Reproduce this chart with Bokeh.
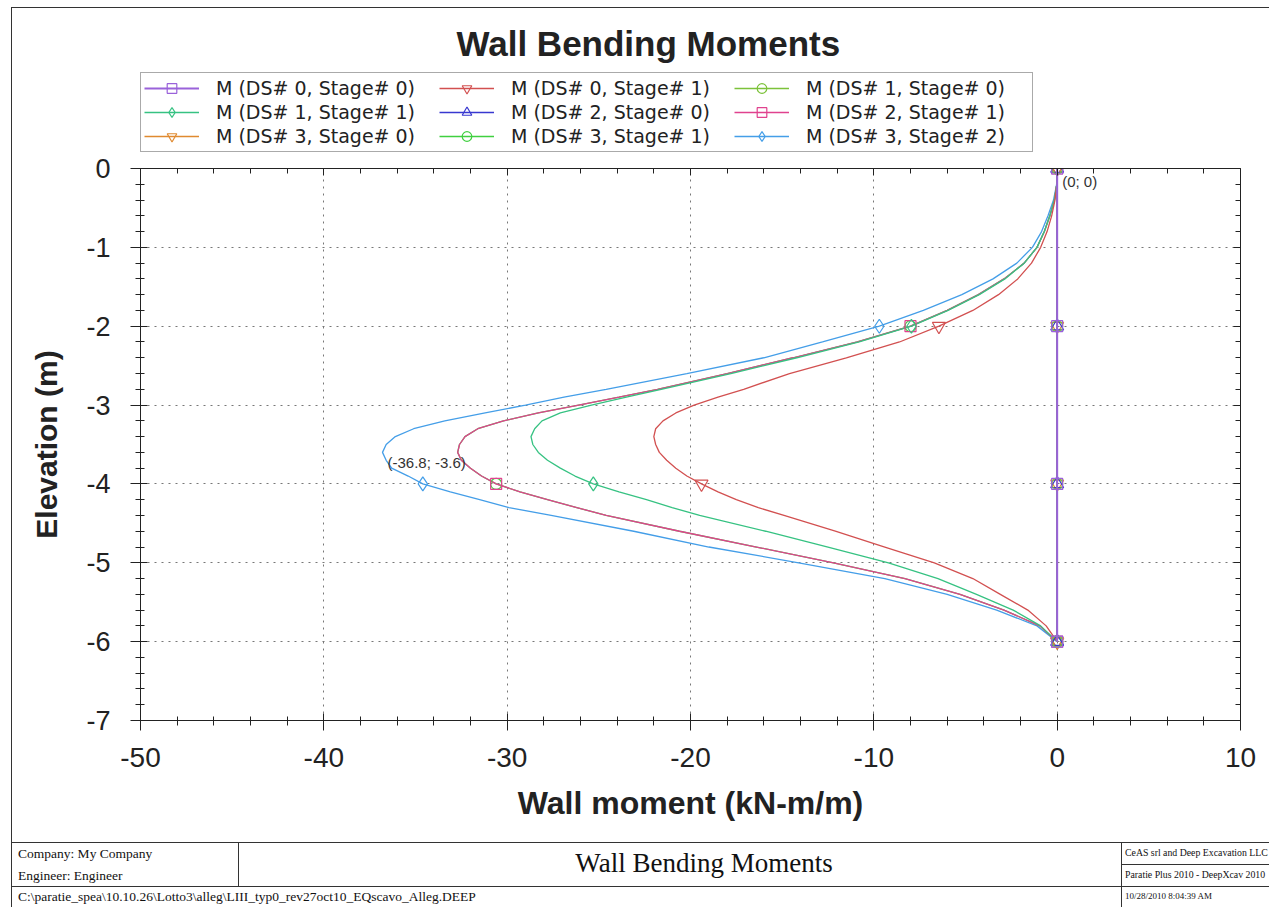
from bokeh.plotting import figure
from bokeh.models import Range1d, FixedTicker, Legend, LegendItem, Label, LinearAxis, Div
from bokeh.layouts import column
from bokeh.embed import file_html
from bokeh.resources import INLINE
from bokeh.core.properties import value

# ---------------- data ----------------
elevation = [0.0, -0.2, -0.4, -0.6, -0.8, -1.0, -1.2, -1.4, -1.6, -1.8, -2.0, -2.2, -2.4, -2.6, -2.8,
             -2.9, -3.0, -3.1, -3.2, -3.3, -3.4, -3.5, -3.6, -3.7, -3.8, -3.9, -4.0, -4.1, -4.2, -4.3, -4.4,
             -4.6, -4.8, -5.0, -5.2, -5.4, -5.6, -5.8, -6.0]

m_ds0_s1 = [0.0, -0.02, -0.12, -0.3, -0.55, -0.9, -1.4, -2.15, -3.2, -4.6, -6.45, -8.6, -11.5, -14.6, -17.1,
            -18.5, -19.8, -20.8, -21.5, -21.9, -22.0, -21.9, -21.7, -21.3, -20.8, -20.2, -19.4, -18.5, -17.5, -16.3, -14.9,
            -12.1, -9.4, -6.7, -4.6, -3.1, -1.6, -0.6, 0.0]
m_ds1_s1 = [0.0, -0.02, -0.15, -0.4, -0.7, -1.1, -1.8, -2.85, -4.25, -5.95, -7.95, -10.8, -14.2, -17.8, -21.6,
            -23.5, -25.4, -27.1, -28.1, -28.5, -28.7, -28.6, -28.3, -27.8, -27.1, -26.3, -25.3, -23.9, -22.4, -21.0, -19.5,
            -15.9, -12.5, -9.2, -6.5, -4.4, -2.4, -0.9, 0.0]
m_ds2_s1 = [0.0, -0.02, -0.15, -0.4, -0.7, -1.1, -1.8, -2.9, -4.3, -6.0, -8.0, -10.9, -14.4, -18.0, -21.8,
            -23.9, -26.1, -28.3, -30.2, -31.6, -32.3, -32.6, -32.7, -32.5, -32.0, -31.4, -30.6, -29.3, -27.8, -26.2, -24.6,
            -20.6, -16.4, -12.2, -8.3, -5.3, -2.9, -0.95, 0.0]
m_ds3_s1 = [0.0, -0.02, -0.15, -0.4, -0.7, -1.1, -1.8, -2.9, -4.3, -6.0, -8.0, -10.9, -14.4, -18.0, -21.8,
            -23.9, -26.1, -28.3, -30.2, -31.6, -32.3, -32.6, -32.7, -32.5, -32.0, -31.4, -30.6, -29.3, -27.8, -26.2, -24.6,
            -20.6, -16.4, -12.2, -8.3, -5.3, -2.9, -0.95, 0.0]
m_ds3_s2 = [0.0, -0.03, -0.2, -0.5, -0.85, -1.35, -2.2, -3.5, -5.2, -7.3, -9.7, -12.8, -16.0, -20.2, -24.6,
            -26.9, -29.0, -31.2, -33.4, -35.1, -36.1, -36.6, -36.8, -36.6, -36.3, -35.4, -34.6, -33.1, -31.5, -29.9, -27.6,
            -23.1, -19.0, -14.1, -9.4, -6.0, -3.3, -1.1, 0.0]

marker_elevations = [0.0, -2.0, -4.0, -6.0]

elevation_stage0 = [0.0, -2.0, -4.0, -6.0]
m_ds0_s0 = [0.0, 0.0, 0.0, 0.0]
m_ds1_s0 = [0.0, 0.0, 0.0, 0.0]
m_ds2_s0 = [0.0, 0.0, 0.0, 0.0]
m_ds3_s0 = [0.0, 0.0, 0.0, 0.0]

series_labels = ["M (DS# 0, Stage# 0)", "M (DS# 0, Stage# 1)", "M (DS# 1, Stage# 0)",
                 "M (DS# 1, Stage# 1)", "M (DS# 2, Stage# 0)", "M (DS# 2, Stage# 1)",
                 "M (DS# 3, Stage# 0)", "M (DS# 3, Stage# 1)", "M (DS# 3, Stage# 2)"]

x_ticks = [-50, -40, -30, -20, -10, 0, 10]
x_tick_labels = ["-50", "-40", "-30", "-20", "-10", "0", "10"]
x_minor = [v for v in range(-50, 11, 2) if v % 10 != 0]
y_ticks = [-7, -6, -5, -4, -3, -2, -1, 0]
y_tick_labels = ["-7", "-6", "-5", "-4", "-3", "-2", "-1", "0"]
y_minor = [round(-7 + 0.2 * i, 1) for i in range(36) if i % 5 != 0]

title_text = "Wall Bending Moments"
x_title = "Wall moment (kN-m/m)"
y_title = "Elevation (m)"
footer_company = "Company: My Company"
footer_engineer = "Engineer: Engineer"
footer_title = "Wall Bending Moments"
footer_file = "C:\\paratie_spea\\10.10.26\\Lotto3\\alleg\\LIII_typ0_rev27oct10_EQscavo_Alleg.DEEP"
footer_r1 = "CeAS srl and Deep Excavation LLC"
footer_r2 = "Paratie Plus 2010 - DeepXcav 2010"
footer_r3 = "10/28/2010 8:04:39 AM"

# ---------------- styling ----------------
FONT = "Liberation Sans"
LEGFONT = "DejaVu Sans"
INK = "#222222"

colors = ["#9A62DA", "#D25050", "#7CC23A", "#36C282", "#3838D0",
          "#E0428E", "#E08A30", "#40D040", "#449EE8"]
markers = ["square", "inverted_triangle", "circle", "diamond", "triangle",
           "square", "inverted_triangle", "circle", "diamond"]
msizes = [11, 13, 11, 14, 13, 11, 13, 11, 14]

W = 1257
BL, BR = 128, 29          # left/right borders around the plotting frame
H_TOP = 145               # header (title + legend)
H_MAIN = 689
H_FOOT = 65

stage1 = {1: m_ds0_s1, 3: m_ds1_s1, 5: m_ds2_s1, 7: m_ds3_s1, 8: m_ds3_s2}
stage0 = {0: m_ds0_s0, 2: m_ds1_s0, 4: m_ds2_s0, 6: m_ds3_s0}
mk_idx = [j for j, e in enumerate(elevation) if e in marker_elevations]


def series_xy(i):
    if i in stage1:
        m = stage1[i]
        return (m, elevation, [m[j] for j in mk_idx], [elevation[j] for j in mk_idx])
    m = stage0[i]
    return (m, elevation_stage0, m, elevation_stage0)


def line_w(i):
    return 2.0 if i == 0 else (1.6 if i in stage0 else 1.3)


# ---------------- header: title + legend ----------------
FW = W - BL - BR
ph = figure(width=W, height=H_TOP, x_range=Range1d(0, FW), y_range=Range1d(H_TOP, 0),
            output_backend="svg", toolbar_location=None, title=None,
            min_border_left=BL, min_border_right=BR, min_border_top=0, min_border_bottom=0,
            x_axis_location=None, y_axis_location=None, outline_line_color=None,
            background_fill_color="white", border_fill_color="white")
ph.xgrid.visible = False
ph.ygrid.visible = False
ph.text(x=[316], y=[35], text=[title_text], text_font=value(FONT), text_font_size="35px",
        text_font_style="bold", text_color=INK, text_baseline="middle", text_align="left")

leg_r = []
for i in range(9):
    lx, ly, mx, my = series_xy(i)
    ln = ph.line(lx, ly, line_color=colors[i], line_width=line_w(i), visible=False)
    mk = ph.scatter(mx, my, marker=markers[i], size=msizes[i], line_color=colors[i],
                    fill_alpha=0, line_width=1.2, visible=False)
    leg_r.append([ln, mk])
items = [LegendItem(label=series_labels[i], renderers=leg_r[i]) for i in range(9)]
legend = Legend(items=items, location=(0, 1), orientation="horizontal", ncols=3,
                glyph_width=55, glyph_height=24, label_standoff=17, label_width=223,
                label_height=19, spacing=0, padding=3, margin=0,
                label_text_font=LEGFONT, label_text_font_size="19px", label_text_color=INK,
                border_line_color="#555555", border_line_width=1,
                background_fill_color="white", background_fill_alpha=1,
                inactive_fill_alpha=0)
ph.add_layout(legend, "center")

# ---------------- main chart ----------------
p = figure(width=W, height=H_MAIN, x_range=Range1d(-50, 10), y_range=Range1d(-7, 0),
           output_backend="svg", toolbar_location=None, title=None,
           min_border_left=BL, min_border_right=BR, min_border_top=15, min_border_bottom=122,
           background_fill_color="white", border_fill_color="white",
           outline_line_color=None)

xt = FixedTicker(ticks=x_ticks, minor_ticks=x_minor)
yt = FixedTicker(ticks=y_ticks, minor_ticks=y_minor)

xa = p.xaxis[0]
ya = p.yaxis[0]
xa.ticker = xt
ya.ticker = yt
xa.major_label_overrides = dict(zip(x_ticks, x_tick_labels))
ya.major_label_overrides = dict(zip(y_ticks, y_tick_labels))
for ax in (xa, ya):
    ax.axis_line_color = INK
    ax.major_tick_line_color = INK
    ax.minor_tick_line_color = INK
    ax.major_tick_in = 7
    ax.major_tick_out = 10
    ax.minor_tick_in = 4
    ax.minor_tick_out = 5
    ax.major_label_text_font = FONT
    ax.major_label_text_color = INK
    ax.axis_label_text_font = FONT
    ax.axis_label_text_font_style = "bold"
    ax.axis_label_text_color = INK
xa.major_label_text_font_size = "28px"
ya.major_label_text_font_size = "27px"
xa.axis_label_text_font_size = "32px"
ya.axis_label_text_font_size = "30px"
xa.axis_label = x_title
ya.axis_label = y_title
xa.major_label_standoff = 17
ya.major_label_standoff = 20
xa.axis_label_standoff = 15
ya.axis_label_standoff = 20

for loc, tk in (("above", xt), ("right", yt)):
    ax = LinearAxis(ticker=tk)
    ax.axis_line_color = INK
    ax.major_tick_line_color = INK
    ax.minor_tick_line_color = INK
    ax.major_tick_in = 7
    ax.major_tick_out = 0
    ax.minor_tick_in = 5
    ax.minor_tick_out = 0
    ax.major_label_overrides = {t: "" for t in tk.ticks}
    ax.major_label_standoff = 0
    p.add_layout(ax, loc)

for g in (p.xgrid[0], p.ygrid[0]):
    g.grid_line_color = "#777777"
    g.grid_line_dash = "2 5"
    g.grid_line_width = 1
p.xgrid[0].ticker = xt
p.ygrid[0].ticker = yt

for i in (8, 7, 5, 3, 1):
    lx, ly, mx, my = series_xy(i)
    p.line(lx, ly, line_color=colors[i], line_width=line_w(i))
for i in (8, 7, 5, 3, 1):
    lx, ly, mx, my = series_xy(i)
    p.scatter(mx, my, marker=markers[i], size=msizes[i], line_color=colors[i],
              fill_alpha=0, line_width=1.2)
for i in (6, 4, 2, 0):
    lx, ly, mx, my = series_xy(i)
    p.line(lx, ly, line_color=colors[i], line_width=line_w(i))
    p.scatter(mx, my, marker=markers[i], size=msizes[i], line_color=colors[i],
              fill_alpha=0, line_width=1.2)

p.add_layout(Label(x=m_ds0_s0[0], y=elevation_stage0[0],
                   text="(%g; %g)" % (m_ds0_s0[0], elevation_stage0[0]),
                   x_offset=5, y_offset=-4, text_baseline="top", text_font=FONT,
                   text_font_size="15px", text_color="#333333"))
k = min(range(len(m_ds3_s2)), key=lambda j: m_ds3_s2[j])
p.add_layout(Label(x=m_ds3_s2[k], y=elevation[k],
                   text="(%.1f; %.1f)" % (m_ds3_s2[k], elevation[k]),
                   x_offset=5, y_offset=-2, text_baseline="top", text_font=FONT,
                   text_font_size="15px", text_color="#333333"))

# ---------------- footer title block ----------------
def box(l, t, w, h):
    return ('<div style="position:absolute;left:%dpx;top:%dpx;width:%dpx;height:%dpx;'
            'background:#333;"></div>' % (l, t, w, h))

def txt(l, t, s, size):
    return ('<div style="position:absolute;left:%dpx;top:%dpx;white-space:nowrap;'
            'font-size:%spx;line-height:1;">%s</div>' % (l, t, size, s))

footer_html = (
    '<div style="position:relative;width:%dpx;height:%dpx;overflow:hidden;'
    'font-family:\'Liberation Serif\';color:#111;background:white;">' % (W, H_FOOT)
    + box(0, 0, W, 1) + box(226, 0, 1, 44) + box(1109, 0, 1, H_FOOT)
    + box(0, 44, W, 1) + box(1109, 22, W - 1109, 1)
    + txt(6, 5, footer_company, 13.5) + txt(6, 27, footer_engineer, 13.5)
    + txt(6, 48, footer_file, 13.5)
    + '<div style="position:absolute;left:251px;width:882px;top:8px;text-align:center;'
      'font-size:27px;line-height:1;">%s</div>' % footer_title
    + txt(1113, 6, footer_r1, 9.8) + txt(1113, 28, footer_r2, 9.8) + txt(1113, 50, footer_r3, 9)
    + '</div>')
footer = Div(text=footer_html, width=W, height=H_FOOT, margin=0)

layout = column(ph, p, footer, spacing=0,
                styles={"border-left": "1px solid #333", "border-top": "1px solid #333",
                        "margin-left": "11px", "margin-top": "7px"})

open("out.html", "w").write(file_html(layout, INLINE))
